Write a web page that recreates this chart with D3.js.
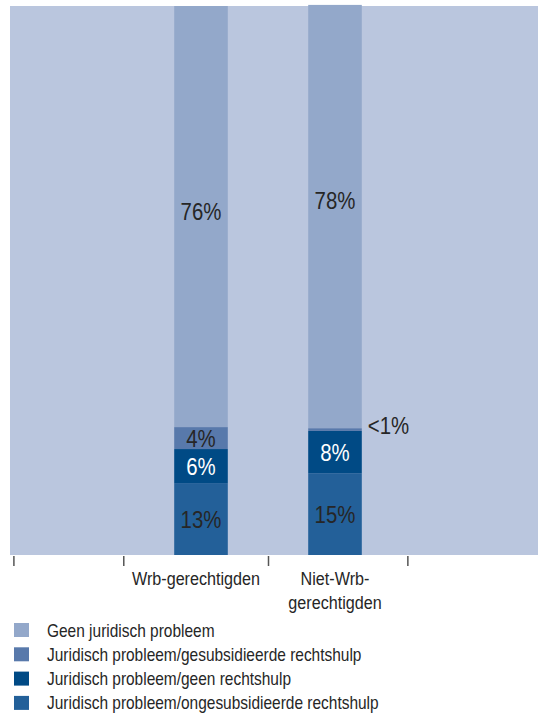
<!DOCTYPE html>
<html><head><meta charset="utf-8">
<script src="https://cdn.jsdelivr.net/npm/d3@7"></script>
<style>body{margin:0;background:#fff}svg{display:block}text{font-family:"Liberation Sans",Arial,sans-serif;fill:#262626}</style>
</head><body><svg id="c" width="538" height="714"></svg>
<script>
const categories = ["Wrb-gerechtigden", "Niet-Wrb-gerechtigden"];
const categoryLines = [["Wrb-gerechtigden"], ["Niet-Wrb-", "gerechtigden"]];
const seriesNames = ["Geen juridisch probleem","Juridisch probleem/gesubsidieerde rechtshulp","Juridisch probleem/geen rechtshulp","Juridisch probleem/ongesubsidieerde rechtshulp"];
const colors = ["#93a8ca","#5879ab","#004a85","#236099"];
const geenProbleem = [76.7, 77.1];
const gesubsidieerd = [4.0, 0.5];
const geenRechtshulp = [6.2, 7.7];
const ongesubsidieerd = [13.1, 14.9];
const valueLabels = [["76%","78%"],["4%","<1%"],["6%","8%"],["13%","15%"]];
const labelColors = ["#262626","#262626","#ffffff","#262626"];
const xTickValues = [-0.9, -0.08, 1, 2.04];

const series = [geenProbleem, gesubsidieerd, geenRechtshulp, ongesubsidieerd];
const svg = d3.select("#c");
const plot = {l:10, t:6, r:538, b:555};
const x = d3.scaleLinear().domain([0,1]).range([134,268]);
const y = d3.scaleLinear().domain([0,100]).range([plot.b, plot.t]);
const barW = x(0.4)-x(0);
const SX = 0.85; // condensed look

function ctext(parent, tx, ty, str, size, anchor){
  return parent.append("text")
    .attr("transform",`translate(${tx},${ty}) scale(${SX},1)`)
    .attr("text-anchor",anchor||"middle").attr("font-size",size).text(str);
}

svg.append("rect").attr("x",plot.l).attr("y",plot.t).attr("width",plot.r-plot.l).attr("height",plot.b-plot.t).attr("fill","#bac6de");

const order = [3,2,1,0];
categories.forEach((c,i)=>{
  let base = 0;
  const cx = x(i+0.5);
  order.forEach(s=>{
    const v = series[s][i];
    const y0 = y(base), y1 = y(base+v);
    svg.append("rect").attr("x",cx-barW/2).attr("y",y1).attr("width",barW).attr("height",y0-y1).attr("fill",colors[s]);
    const mid = (y0+y1)/2;
    const small = v < 2;
    const lift = s===0 ? (i===0 ? 5 : 16) : 0;
    ctext(svg, small ? cx+barW/2+6 : cx, (small ? mid-4 : mid - lift) + 8.5, valueLabels[s][i], 24, small?"start":"middle")
      .style("fill", small ? "#262626" : labelColors[s]);
    base += v;
  });
});

const axis = d3.axisBottom(x).tickValues(xTickValues).tickSize(10).tickFormat("");
const g = svg.append("g").attr("transform",`translate(0,${plot.b+1})`).call(axis);
g.select(".domain").remove();
g.selectAll(".tick line").attr("stroke","#555").attr("stroke-width",1.5);

categoryLines.forEach((lines,i)=>{
  lines.forEach((ln,j)=>{
    ctext(svg, x(i+0.5) - (i===0?5:0), 585 + j*23.5, ln, 19);
  });
});

const leg = svg.append("g");
seriesNames.forEach((n,i)=>{
  const yy = 623 + i*24.3;
  leg.append("rect").attr("x",14).attr("y",yy).attr("width",15).attr("height",14).attr("fill",colors[i]);
  ctext(leg, 47, yy+13.5, n, 18.2, "start");
});
</script></body></html>
